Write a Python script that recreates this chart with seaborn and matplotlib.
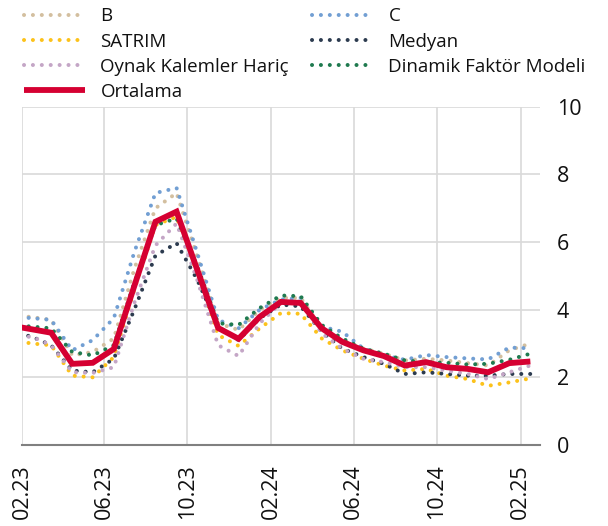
import numpy as np
import pandas as pd
import matplotlib
matplotlib.use('Agg')
import matplotlib.pyplot as plt
import matplotlib.dates as mdates
import seaborn as sns

# aylık veriler (ay ortası), 01.23 - 02.25
dates = pd.date_range('2023-01-01', '2025-02-01', freq='MS') + pd.Timedelta(days=14)

b_vals = [3.85, 3.78, 3.70, 2.65, 2.75, 3.15, 5.20, 7.00, 7.45, 5.60, 3.60, 3.40, 4.00,
          4.35, 4.35, 3.45, 3.10, 2.85, 2.70, 2.50, 2.55, 2.50, 2.42, 2.35, 2.80, 3.00]
c_vals = [3.80, 3.75, 3.70, 2.80, 3.10, 3.75, 5.70, 7.45, 7.60, 5.70, 3.70, 3.45, 4.00,
          4.30, 4.35, 3.50, 3.35, 2.85, 2.65, 2.52, 2.66, 2.60, 2.56, 2.53, 2.88, 2.86]
satrim = [3.10, 3.00, 2.95, 2.05, 2.00, 2.60, 4.60, 6.50, 6.75, 5.00, 3.25, 2.93, 3.45,
          3.90, 3.88, 3.15, 2.80, 2.55, 2.35, 2.20, 2.25, 2.05, 1.95, 1.75, 1.85, 1.97]
medyan = [3.35, 3.20, 2.95, 2.20, 2.15, 2.55, 4.00, 5.60, 5.97, 4.90, 3.50, 3.10, 3.75,
          4.15, 4.10, 3.35, 2.85, 2.60, 2.40, 2.10, 2.15, 2.10, 2.05, 2.05, 2.10, 2.10]
oynak = [3.20, 3.20, 2.95, 2.15, 2.13, 2.30, 4.20, 5.90, 6.55, 4.90, 2.95, 2.63, 3.60,
         4.20, 4.25, 3.30, 2.85, 2.55, 2.45, 2.30, 2.30, 2.20, 2.10, 1.95, 2.15, 2.35]
dfm = [3.55, 3.50, 3.45, 2.75, 2.65, 2.95, 4.80, 6.50, 6.70, 5.30, 3.60, 3.55, 4.05,
       4.42, 4.40, 3.55, 3.15, 2.85, 2.70, 2.50, 2.45, 2.43, 2.38, 2.40, 2.52, 2.70]
ortalama = [3.53, 3.42, 3.32, 2.40, 2.43, 2.84, 4.70, 6.60, 6.90, 5.20, 3.46, 3.14, 3.79,
            4.23, 4.20, 3.45, 3.05, 2.80, 2.63, 2.35, 2.45, 2.30, 2.25, 2.15, 2.42, 2.47]

df = pd.DataFrame({'t': dates, 'B': b_vals, 'C': c_vals, 'SATRIM': satrim,
                   'Medyan': medyan, 'Oynak Kalemler Hariç': oynak,
                   'Dinamik Faktör Modeli': dfm, 'Ortalama': ortalama})

colors = {'B': '#d3bf9f', 'C': '#729fd3', 'SATRIM': '#fcc21b', 'Medyan': '#2c3b4f',
          'Oynak Kalemler Hariç': '#c4a6c6', 'Dinamik Faktör Modeli': '#1f7a4f',
          'Ortalama': '#d50032'}

sns.set_style('white')
plt.rcParams['font.family'] = ['Open Sans', 'DejaVu Sans']

fig = plt.figure(figsize=(6.08, 5.26), dpi=100)
ax = fig.add_axes([0.037, 0.154, 0.851, 0.643])

dotted = (0, (0.01, 2.2))
for name in ['B', 'C', 'SATRIM', 'Medyan', 'Oynak Kalemler Hariç', 'Dinamik Faktör Modeli']:
    sns.lineplot(data=df, x='t', y=name, ax=ax, color=colors[name], lw=2.9,
                 linestyle=dotted, dash_capstyle='round', label=name)
sns.lineplot(data=df, x='t', y='Ortalama', ax=ax, color=colors['Ortalama'], lw=4.2,
             solid_capstyle='butt', solid_joinstyle='miter', label='Ortalama')

ax.set_xlim(pd.Timestamp('2023-02-01'), pd.Timestamp('2025-03-01'))
ax.set_ylim(0, 10)
ax.set_yticks(range(0, 11, 2))
ax.xaxis.set_major_locator(mdates.MonthLocator(bymonth=[2, 6, 10]))
ax.xaxis.set_major_formatter(mdates.DateFormatter('%m.%y'))
ax.yaxis.tick_right()
ax.tick_params(axis='both', length=0, labelsize=15.5, colors='#111111')
ax.tick_params(axis='x', rotation=90, pad=14)
ax.tick_params(axis='y', pad=12)
ax.set_xlabel('')
ax.set_ylabel('')
ax.grid(True, color='#d9d9d9', lw=1.2)
ax.set_axisbelow(True)
for s in ['top', 'left', 'right']:
    ax.spines[s].set_visible(False)
ax.spines['bottom'].set_color('#808080')
ax.spines['bottom'].set_linewidth(1.5)

handles, labels = ax.get_legend_handles_labels()
order = ['B', 'SATRIM', 'Oynak Kalemler Hariç', 'Ortalama', 'C', 'Medyan', 'Dinamik Faktör Modeli']
h = [handles[labels.index(o)] for o in order]
ax.get_legend().remove()
fig.legend(h, order, loc='upper left', bbox_to_anchor=(0.011, 1.018), ncol=2, frameon=False,
           fontsize=13.5, handlelength=3.25, handletextpad=0.85, columnspacing=1.2,
           labelspacing=0.38, labelcolor='#111111')

fig.savefig('out.png', dpi=100)
